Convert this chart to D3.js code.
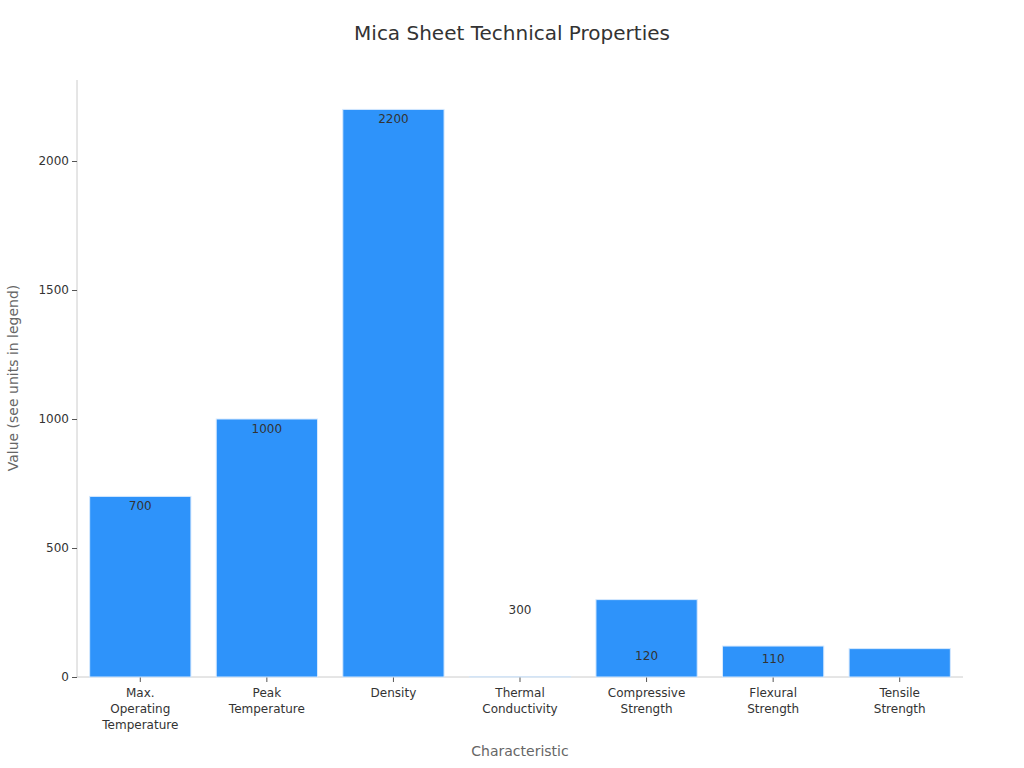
<!DOCTYPE html>
<html><head><meta charset="utf-8">
<script src="https://cdn.jsdelivr.net/npm/d3@7"></script>
<style>body{margin:0;background:#fff;font-family:"DejaVu Sans",sans-serif}</style>
</head><body><svg id="c" width="1024" height="768"></svg>
<script>
const categories = [["Max.","Operating","Temperature"],["Peak","Temperature"],["Density"],["Thermal","Conductivity"],["Compressive","Strength"],["Flexural","Strength"],["Tensile","Strength"]];
const values = [700,1000,2200,0.5,300,120,110];
const yTicks = [0,500,1000,1500,2000];

const svg = d3.select("#c");
const m = {l:77, r:963, t:80, b:677};
const x = d3.scaleBand().domain(d3.range(values.length)).range([m.l,m.r]).paddingInner(0.2).paddingOuter(0.1);
const y = d3.scaleLinear().domain([0,2314]).range([m.b,m.t]);

svg.append("text").attr("x",512).attr("y",40).attr("text-anchor","middle").attr("font-size",20).attr("fill","#333").text("Mica Sheet Technical Properties");

const ya = svg.append("g").attr("transform",`translate(${m.l},0)`).call(d3.axisLeft(y).tickValues(yTicks).tickSize(5).tickFormat(d3.format("d")));
ya.select(".domain").attr("stroke","#ccc").attr("d",`M0,${m.t}V${m.b}`);
ya.selectAll(".tick line").attr("stroke","#555");
ya.selectAll("text").attr("font-size",12).attr("fill","#333").attr("font-family","DejaVu Sans");

const xa = svg.append("g").attr("transform",`translate(0,${m.b})`).call(d3.axisBottom(x).tickSize(5).tickFormat(""));
xa.select(".domain").attr("stroke","#ccc").attr("d",`M${m.l},0H${m.r}`);
xa.selectAll(".tick line").attr("stroke","#555");
xa.selectAll(".tick").each(function(d){
  const t = d3.select(this).append("text").attr("y",20).attr("text-anchor","middle").attr("font-size",12).attr("fill","#333").attr("font-family","DejaVu Sans");
  categories[d].forEach((s,i)=>t.append("tspan").attr("x",0).attr("dy",i?16:0).text(s));
});

svg.selectAll("rect.bar").data(values).join("rect").attr("class","bar")
  .attr("x",(d,i)=>x(i)).attr("width",x.bandwidth())
  .attr("y",d=>y(d)).attr("height",d=>m.b-y(d))
  .attr("fill","#2e93fa").attr("stroke","#d6e9fe").attr("stroke-width",1);

svg.selectAll("text.val").data(values).join("text").attr("class","val")
  .filter(d=>d>=50)
  .attr("x",(d,i)=>x(i)+x.bandwidth()/2).attr("y",d=>y(d)+14)
  .attr("text-anchor","middle").attr("font-size",12).attr("fill","#333").text(d=>d);

svg.append("text").attr("x",520).attr("y",756).attr("text-anchor","middle").attr("font-size",14).attr("fill","#666").text("Characteristic");
svg.append("text").attr("transform","translate(18,378) rotate(-90)").attr("text-anchor","middle").attr("font-size",14).attr("fill","#666").text("Value (see units in legend)");
</script></body></html>
